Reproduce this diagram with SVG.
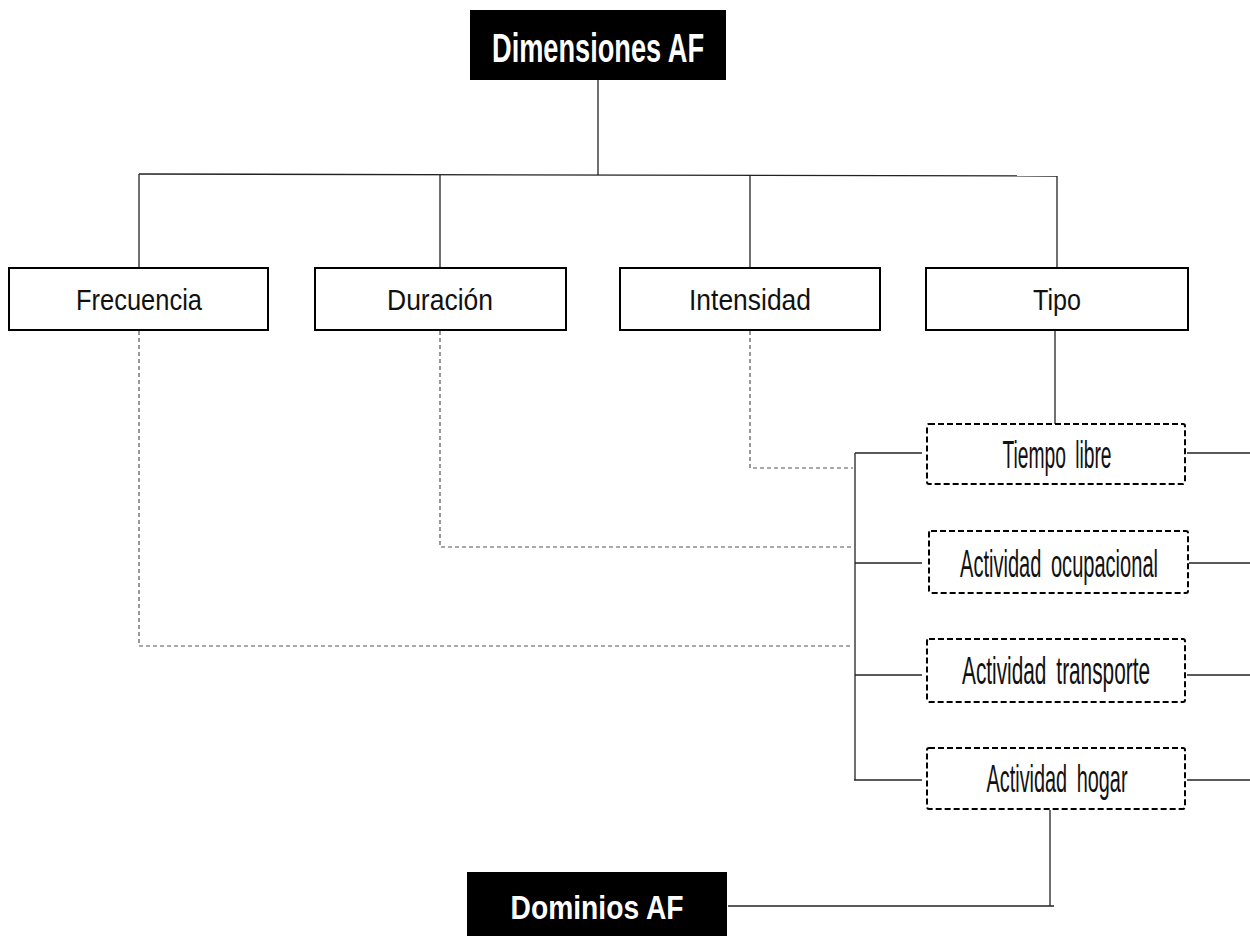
<svg xmlns="http://www.w3.org/2000/svg" width="1250" height="936" viewBox="0 0 1250 936">
<style>
.hdr{fill:#000}
.hdrt{fill:#fff;font-family:"Liberation Sans",Arial,sans-serif;font-weight:bold;text-anchor:middle}
.box{fill:#fff;stroke:#000;stroke-width:2}
.dbox{fill:#fff;stroke:#000;stroke-width:2;stroke-dasharray:6 3}
.bt{font-family:"Liberation Sans",Arial,sans-serif;font-size:29px;fill:#111;text-anchor:middle}
.ct{font-family:"Liberation Sans",Arial,sans-serif;font-size:20px;fill:#111;text-anchor:middle;word-spacing:4px}
.ln{stroke:#222;stroke-width:1.3;fill:none}
.dl{stroke:#555;stroke-width:1.2;fill:none;stroke-dasharray:4 3}
</style>
<g id="connectors">
<line class="ln" x1="598" y1="80" x2="598" y2="175"/>
<line class="ln" x1="139" y1="174" x2="1057" y2="176"/>
<line class="ln" x1="139" y1="174" x2="139" y2="268"/>
<line class="ln" x1="440" y1="175" x2="440" y2="268"/>
<line class="ln" x1="750" y1="175" x2="750" y2="268"/>
<line class="ln" x1="1057" y1="176" x2="1057" y2="268"/>
<line class="ln" x1="1055" y1="330" x2="1055" y2="424"/>
<polyline class="dl" points="750,331 750,468 853,468"/>
<polyline class="dl" points="440,331 440,547 853,547"/>
<polyline class="dl" points="139,331 139,646 853,646"/>
<line class="ln" x1="855" y1="453" x2="855" y2="780"/>
<line class="ln" x1="855" y1="453" x2="922" y2="453"/>
<line class="ln" x1="855" y1="563" x2="922" y2="563"/>
<line class="ln" x1="855" y1="675" x2="922" y2="675"/>
<line class="ln" x1="854" y1="780" x2="922" y2="780"/>
<line class="ln" x1="1187" y1="453" x2="1250" y2="453"/>
<line class="ln" x1="1189" y1="563" x2="1250" y2="563"/>
<line class="ln" x1="1187" y1="675" x2="1250" y2="675"/>
<line class="ln" x1="1187" y1="780" x2="1250" y2="780"/>
<line class="ln" x1="1050" y1="810" x2="1050" y2="906"/>
<line class="ln" x1="728" y1="906" x2="1054" y2="906"/>
</g>
<g id="dimensiones">
<rect class="hdr" x="470" y="10" width="256" height="70"/>
<text class="hdrt" transform="translate(598,62) scale(1,1.48)" x="0" y="0" font-size="27" textLength="212" lengthAdjust="spacingAndGlyphs">Dimensiones AF</text>
</g>
<g id="frecuencia">
<rect class="box" x="9" y="268" width="259" height="62"/>
<text class="bt" x="139" y="310" textLength="126" lengthAdjust="spacingAndGlyphs">Frecuencia</text>
</g>
<g id="duracion">
<rect class="box" x="315" y="268" width="251" height="62"/>
<text class="bt" x="440" y="310" textLength="106" lengthAdjust="spacingAndGlyphs">Duración</text>
</g>
<g id="intensidad">
<rect class="box" x="620" y="268" width="260" height="62"/>
<text class="bt" x="750" y="310" textLength="122" lengthAdjust="spacingAndGlyphs">Intensidad</text>
</g>
<g id="tipo">
<rect class="box" x="926" y="268" width="262" height="62"/>
<text class="bt" x="1057" y="310" textLength="48" lengthAdjust="spacingAndGlyphs">Tipo</text>
</g>
<g id="tiempo-libre">
<rect class="dbox" x="927" y="424" width="258" height="60" rx="2"/>
<text class="ct" transform="translate(1057,468) scale(1,1.9)" x="0" y="0" textLength="109" lengthAdjust="spacingAndGlyphs">Tiempo libre</text>
</g>
<g id="actividad-ocupacional">
<rect class="dbox" x="929" y="531" width="259" height="62" rx="2"/>
<text class="ct" transform="translate(1059,577) scale(1,1.9)" x="0" y="0" textLength="198" lengthAdjust="spacingAndGlyphs">Actividad ocupacional</text>
</g>
<g id="actividad-transporte">
<rect class="dbox" x="927" y="639" width="258" height="63" rx="2"/>
<text class="ct" transform="translate(1056,684) scale(1,1.9)" x="0" y="0" textLength="188" lengthAdjust="spacingAndGlyphs">Actividad transporte</text>
</g>
<g id="actividad-hogar">
<rect class="dbox" x="927" y="748" width="258" height="61" rx="2"/>
<text class="ct" transform="translate(1057,792) scale(1,1.9)" x="0" y="0" textLength="141" lengthAdjust="spacingAndGlyphs">Actividad hogar</text>
</g>
<g id="dominios">
<rect class="hdr" x="467" y="872" width="260" height="64"/>
<text class="hdrt" transform="translate(597,919) scale(1,1.18)" x="0" y="0" font-size="28" textLength="173" lengthAdjust="spacingAndGlyphs">Dominios AF</text>
</g>
</svg>
